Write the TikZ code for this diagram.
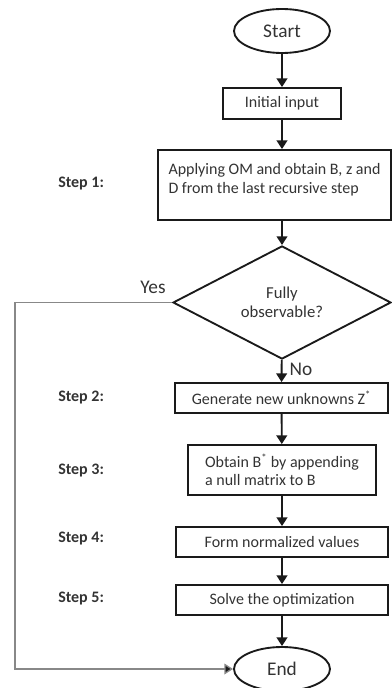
\documentclass[tikz,border=0pt]{standalone}
\usepackage{fontspec}
\setmainfont{Carlito}
\usepackage{tikz}
\usetikzlibrary{arrows.meta,positioning,shapes.geometric}
\definecolor{fcline}{HTML}{1A1A1A}
\definecolor{fctext}{HTML}{333333}
\definecolor{fcgray}{HTML}{888888}

\begin{document}
\begin{tikzpicture}[
  x=0.75pt, y=-0.75pt,
  termnode/.style={ellipse, draw=fcline, line width=1.4pt, inner sep=0pt,
    minimum width=72pt, minimum height=33pt, font=\fontsize{14.5}{16}\selectfont\color{fctext}},
  procbox/.style={rectangle, draw=fcline, line width=1.4pt, inner sep=0pt,
    font=\fontsize{12}{14}\selectfont\color{fctext}},
  decnode/.style={diamond, draw=fcline, line width=1.4pt, inner sep=0pt, align=center,
    minimum width=163.5pt, minimum height=75.75pt, font=\fontsize{12.5}{14.5}\selectfont\color{fctext}},
  steplab/.style={anchor=west, inner sep=0pt, font=\bfseries\fontsize{12}{14}\selectfont\color{fctext}},
  branchlab/.style={font=\fontsize{14.5}{16}\selectfont\color{fctext}},
  flowarr/.style={draw=fcline, line width=1.4pt, -{Triangle[length=6.5pt,width=8pt]}},
  looparr/.style={draw=fcgray, line width=1pt, -{Triangle[length=6.5pt,width=8pt,fill=fcline]}},
]
% pixel grid of the 392x688 figure, y going down
\useasboundingbox (0,0) rectangle (392,688);

\node[termnode] (start) at (282,31) {Start};
\node[procbox, minimum width=88.5pt, minimum height=23.25pt] (init) at (282,103.5) {Initial input};
\node[procbox, minimum width=174.75pt, minimum height=52.5pt, align=left, text depth=10pt]
  (omstep) at (274.5,185) {Applying OM and obtain B, z and\\D from the last recursive step};
\node[decnode] (obs) at (282,302.5) {Fully\\observable?};
\node[procbox, minimum width=159.75pt, minimum height=22.5pt] (unknowns) at (281.5,398)
  {Generate new unknowns Z\textsuperscript{*}};
\node[procbox, minimum width=141pt, minimum height=37.5pt, align=left]
  (nullmat) at (282,470) {Obtain B\textsuperscript{*} by appending\\a null matrix to B};
\node[procbox, minimum width=159pt, minimum height=22.5pt] (normval) at (282,542) {Form normalized values};
\node[procbox, minimum width=159pt, minimum height=22.5pt] (optim) at (282,600) {Solve the optimization};
\node[termnode] (end) at (282,669) {End};

% step labels
\node[steplab] (s1) at (58,184) {Step 1:};
\node[steplab] (s2) at (58,398) {Step 2:};
\node[steplab] (s3) at (58,471) {Step 3:};
\node[steplab] (s4) at (58,539) {Step 4:};
\node[steplab] (s5) at (58,599) {Step 5:};

% main flow
\draw[flowarr] (start) -- (init);
\draw[flowarr] (init) -- (init |- omstep.north);
\draw[flowarr] (init |- omstep.south) -- (obs);
\draw[flowarr] (obs) -- (unknowns) node[branchlab, pos=0.42, right=2pt] (nolab) {No};
\draw[flowarr] (unknowns) -- (nullmat);
\draw[flowarr] (nullmat) -- (normval);
\draw[flowarr] (normval) -- (optim);
\draw[flowarr] (optim) -- (end);

% yes branch back to the end
\coordinate (loopa) at (15,302.5);
\coordinate (loopb) at (15,669);
\node[branchlab] (yeslab) at (153,287) {Yes};
\draw[looparr] (obs.west) -- (loopa) -- (loopb) -- (end.west);
\end{tikzpicture}
\end{document}
